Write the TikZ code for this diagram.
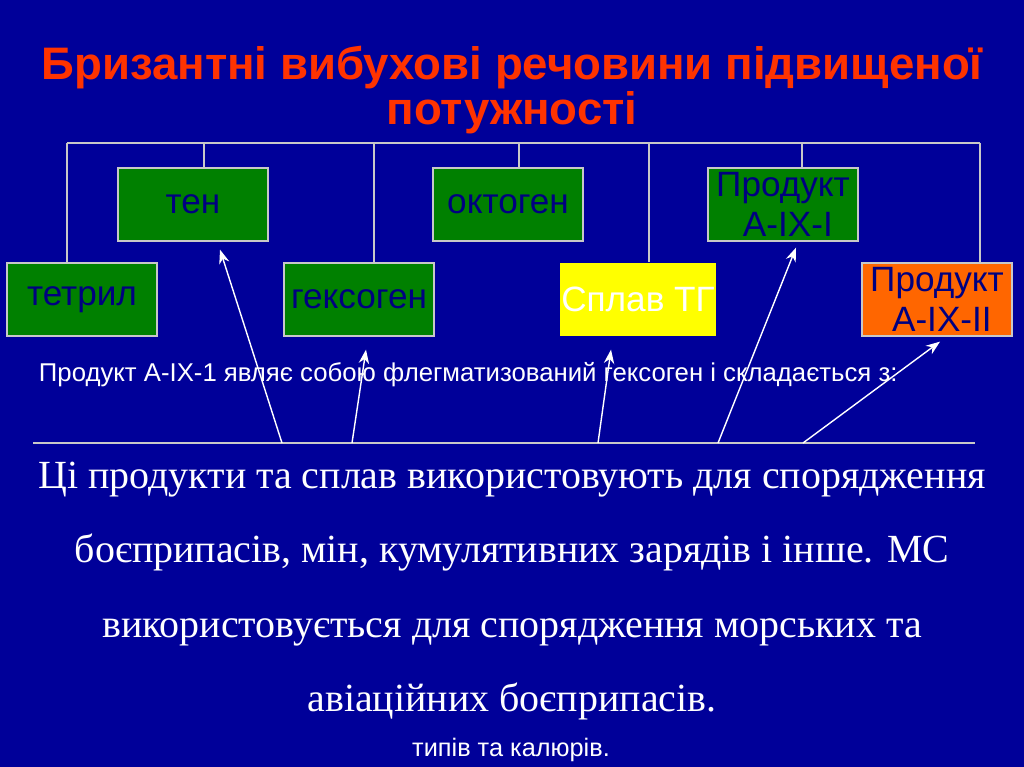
\documentclass[tikz,border=0pt]{standalone}
\usepackage{fontspec}
\setmainfont{Liberation Serif}
\setsansfont{Liberation Sans}
\usetikzlibrary{arrows.meta,positioning,calc}
\definecolor{slidebg}{HTML}{000099}
\definecolor{titlecol}{HTML}{FF3300}
\definecolor{boxgreen}{HTML}{008000}
\definecolor{boxyellow}{HTML}{FFFF00}
\definecolor{boxorange}{HTML}{FF6600}
\definecolor{boxtext}{HTML}{000080}
\definecolor{rimcol}{HTML}{C8C8C8}

\begin{document}
\begin{tikzpicture}[x=0.025cm,y=-0.025cm,
  kind/.style={draw=rimcol,line width=0.9pt,fill=boxgreen,minimum width=3.75cm,minimum height=1.825cm,
    inner sep=1pt,align=center,text=boxtext,font=\sffamily\fontsize{25}{28}\selectfont},
  tree/.style={draw=rimcol,line width=0.8pt},
  arr/.style={-{Stealth[length=3.5mm,width=2.6mm]},white,line width=1pt}]
  \fill[slidebg] (0,0) rectangle (1024,767);
  \useasboundingbox (0,0) rectangle (1024,767);
  % title
  \node[text=titlecol,font=\sffamily\bfseries\fontsize{32.4}{32}\selectfont,align=center] (title) at (512,90)
    {Бризантні вибухові речовини підвищеної\\потужності};
  % boxes
  \node[kind] (ten) at (193,204.5) {тен};
  \node[kind] (oktogen) at (508,204.5) {октоген};
  \node[kind] (prod1) at (783,204.5) {Продукт\\\ A-IX-I};
  \node[kind] (tetryl) at (82,299.5) {тетрил};
  \node[kind] (heksogen) at (359,299.5) {гексоген};
  \node[kind,draw=none,fill=boxyellow,text=white] (splav) at (638,299.5) {Сплав ТГ};
  \node[kind,fill=boxorange] (prod2) at (937,299.5) {Продукт\\\ A-IX-II};
  % tree
  \coordinate (t1) at (67,143);
  \coordinate (t2) at (204,143);
  \coordinate (t3) at (374,143);
  \coordinate (t4) at (519,143);
  \coordinate (t5) at (649,143);
  \coordinate (t6) at (802,143);
  \coordinate (t7) at (980,143);
  \draw[tree] (t1) -- (t7);
  \draw[tree] (t1) -- (t1 |- tetryl.north);
  \draw[tree] (t2) -- (t2 |- ten.north);
  \draw[tree] (t3) -- (t3 |- heksogen.north);
  \draw[tree] (t4) -- (t4 |- oktogen.north);
  \draw[tree] (t5) -- (t5 |- splav.north);
  \draw[tree] (t6) -- (t6 |- prod1.north);
  \draw[tree] (t7) -- (t7 |- prod2.north);
  % note
  \node[anchor=west,text=white,font=\sffamily\fontsize{18.3}{20}\selectfont] (note) at (34,375)
    {Продукт А-ІХ-1 являє собою флегматизований гексоген і складається з:};
  % base line and arrows
  \coordinate (l0) at (33,443);
  \coordinate (l1) at (975,443);
  \draw[tree] (l0) -- (l1);
  \coordinate (a1) at (282,443);
  \coordinate (a2) at (352,443);
  \coordinate (a3) at (598,443);
  \coordinate (a4) at (718,443);
  \coordinate (a5) at (803,443);
  \draw[arr] (a1) -- ($(ten.south)+(27,8)$);
  \draw[arr] (a2) -- ($(heksogen.south)+(7,13)$);
  \draw[arr] (a3) -- ($(splav.south)+(-27,13)$);
  \draw[arr] (a4) -- ($(prod1.south)+(13,6)$);
  \draw[arr] (a5) -- ($(prod2.south)+(3,5)$);
  % body text
  \node[text=white,font=\fontsize{28.4}{53}\selectfont,align=center] (body) at (512,591)
    {Ці продукти та сплав використовують для спорядження\\
     боєприпасів, мін, кумулятивних зарядів і інше. МС\\
     використовується для спорядження морських та\\
     авіаційних боєприпасів.};
  \node[text=white,font=\sffamily\fontsize{18}{20}\selectfont] (tail) at (511,750) {типів та калюрів.};
\end{tikzpicture}
\end{document}
